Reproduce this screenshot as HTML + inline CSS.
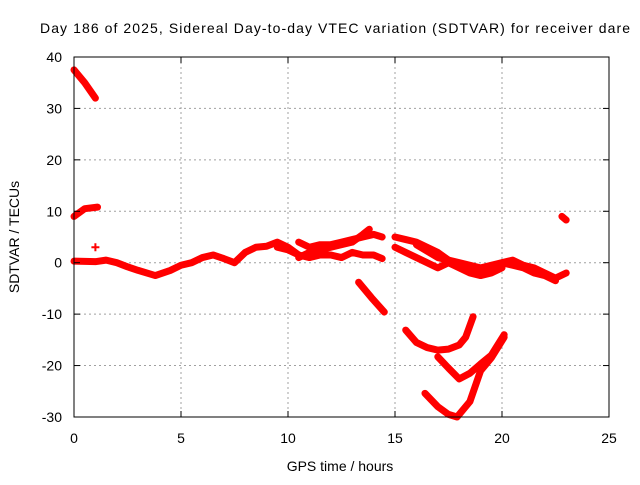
<!DOCTYPE html>
<html><head><meta charset="utf-8"><style>
body{margin:0;background:#fff}
svg text{font-family:"Liberation Sans",sans-serif;font-size:14px;fill:#000}
</style></head><body>
<svg id="c" width="640" height="480" viewBox="0 0 640 480">
<text x="40" y="33" textLength="590" font-size="15">Day 186 of 2025, Sidereal Day-to-day VTEC variation (SDTVAR) for receiver dare</text>
<g id="grid"></g>
<g id="marks"></g>
<rect x="74" y="57" width="535" height="360" fill="none" stroke="#000" stroke-width="1"/>
<g id="ticks"></g>
<text x="340" y="471" text-anchor="middle">GPS time / hours</text>
<text x="19" y="237" text-anchor="middle" transform="rotate(-90 19 237)">SDTVAR / TECUs</text>
</svg>
<script>
const xTicks=[0,5,10,15,20,25];
const yTicks=[-30,-20,-10,0,10,20,30,40];
const trackHours=[
[0,0.5,1.0],
[0,0.5,1.1],
[0,1,1.5,2,2.5,3,3.8,4.5,5,5.5,6,6.5,7,7.5,8,8.5,9,9.5,10,10.5],
[9.5,10,10.5,11,11.5,12,12.5,13,13.5,14,14.4],
[10.5,11,11.5,12,12.5,13,13.5,14,14.4],
[10.5,11,12,13,13.5,13.8],
[15,15.5,16,16.5,17,17.5,18,18.5,19,19.5],
[15,15.5,16,16.5,17,17.5,18,18.5,19,19.5,20],
[16,17,18,19,20,20.5,21,21.5,22,22.5,23],
[19.5,20,20.5,21,21.5,22,22.5],
[22.8,23.0],
[13.3,13.9,14.5],
[15.5,16,16.5,17,17.5,18,18.3,18.65],
[17,17.5,18,18.5,19,19.5,20.1],
[16.4,17,17.5,17.9,18.5,19,19.5,20.1]
];
const trackValues=[
[37.5,35,32],
[9,10.5,10.8],
[0.3,0.2,0.5,0,-0.8,-1.5,-2.5,-1.5,-0.5,0,1,1.5,0.8,0,2,3,3.2,4,3,1.5],
[3,2.5,1.5,1,1.5,1.5,1,2,1.5,1.5,0.8],
[4,3,3.5,3.5,4,4.5,5,5.5,5],
[1,2,3,4,5.5,6.5],
[5,4.5,4,3,2,0.5,-0.5,-1,-1.5,-1],
[3,2,1,0,-1,0,-1,-2,-2.5,-2,-1],
[3.5,1,0,-1,0,0.5,-0.5,-1,-2,-3,-2],
[-1,0,-0.5,-1,-2,-2.5,-3.5],
[9,8.3],
[-3.8,-6.8,-9.6],
[-13.1,-15.5,-16.5,-17,-16.8,-16,-14.5,-10.5],
[-18.3,-20.5,-22.6,-21.5,-19.7,-18,-14],
[-25.4,-28,-29.5,-30,-27,-21,-18.5,-14.5]
];
const singlePoints=[[1,3]];
const NS="http://www.w3.org/2000/svg";
const X=h=>74+h*535/25, Y=v=>262.7-v*360/70;
const grid=document.getElementById('grid'),ticks=document.getElementById('ticks'),marks=document.getElementById('marks');
function mk(t,a,p){const e=document.createElementNS(NS,t);for(const k in a)e.setAttribute(k,a[k]);p.appendChild(e);return e;}
xTicks.forEach(t=>{
 if(t>0&&t<25){const g=mk('line',{x1:X(t),x2:X(t),y1:57,y2:417,stroke:'#a0a0a0','stroke-dasharray':'2,3'},grid);
 
 }
 const l=mk('text',{x:X(t),y:443,'text-anchor':'middle'},ticks);l.textContent=t;
 
 
 mk('line',{x1:X(t),x2:X(t),y1:417,y2:411,stroke:'#000'},ticks);
 mk('line',{x1:X(t),x2:X(t),y1:57,y2:63,stroke:'#000'},ticks);
});
yTicks.forEach(t=>{
 if(t>-30&&t<40){const g=mk('line',{x1:74,x2:609,y1:Y(t),y2:Y(t),stroke:'#a0a0a0','stroke-dasharray':'2,3'},grid);
 
 }
 const l=mk('text',{x:62,y:Y(t)+5,'text-anchor':'end'},ticks);l.textContent=t;
 
 
 mk('line',{x1:74,x2:80,y1:Y(t),y2:Y(t),stroke:'#000'},ticks);
 mk('line',{x1:609,x2:603,y1:Y(t),y2:Y(t),stroke:'#000'},ticks);
});
trackHours.forEach((hs,i)=>{
 const pts=hs.map((h,j)=>X(h)+','+Y(trackValues[i][j])).join(' ');
 const p=mk('polyline',{points:pts,fill:'none',stroke:'#ff0000','stroke-width':7,'stroke-linejoin':'round','stroke-linecap':'round'},marks);
 
 
});
singlePoints.forEach(([h,v])=>{
 const p=mk('path',{d:`M${X(h)-4},${Y(v)}h8M${X(h)},${Y(v)-4}v8`,stroke:'#ff0000','stroke-width':2},marks);
 
 
});
</script>
</body></html>
